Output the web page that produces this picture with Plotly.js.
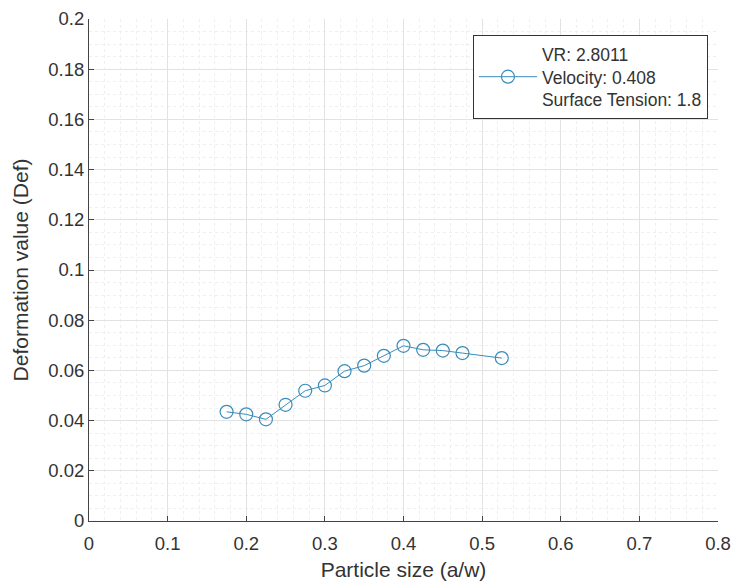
<!DOCTYPE html>
<html>
<head>
<meta charset="utf-8">
<script src="https://cdn.plot.ly/plotly-3.0.1.min.js"></script>
<style>html,body{margin:0;padding:0;background:#fff;}#chart{width:738px;height:583px;}</style>
</head>
<body>
<div id="chart"></div>
<script>
const particleSize = [0.175, 0.2, 0.225, 0.25, 0.275, 0.3, 0.325, 0.35, 0.375, 0.4, 0.425, 0.45, 0.475, 0.525];
const deformation = [0.0435, 0.0425, 0.0405, 0.0463, 0.0519, 0.054, 0.0597, 0.0619, 0.0658, 0.0698, 0.0682, 0.0679, 0.0669, 0.0649];
const seriesName = 'VR: 2.8011<br>Velocity: 0.408<br>Surface Tension: 1.8';
const xTitle = 'Particle size (a/w)';
const yTitle = 'Deformation value (Def)';

const lineColor = '#3a8cba';
const font = 'Liberation Sans, Arial, sans-serif';
const textColor = '#333333';

const trace = {
  x: particleSize,
  y: deformation,
  mode: 'lines+markers',
  name: seriesName,
  line: {color: lineColor, width: 1},
  marker: {symbol: 'circle-open', size: 13, color: lineColor, line: {width: 1.2, color: lineColor}},
  showlegend: true
};

const axisCommon = {
  showline: true,
  linecolor: '#444444',
  linewidth: 1,
  ticks: 'inside',
  ticklen: 5,
  tickcolor: '#444444',
  tickfont: {family: font, size: 18.5, color: textColor},
  showgrid: true,
  gridcolor: '#e2e2e2',
  gridwidth: 1,
  zeroline: false,
  mirror: false
};

const layout = {
  width: 738,
  height: 583,
  margin: {l: 89, r: 20, t: 19, b: 62},
  paper_bgcolor: '#ffffff',
  plot_bgcolor: '#ffffff',
  font: {family: font, color: textColor},
  xaxis: Object.assign({}, axisCommon, {
    range: [0, 0.8],
    dtick: 0.1,
    tick0: 0,
    ticklabelstandoff: 6,
    minor: {dtick: 0.02, showgrid: true, gridcolor: '#efefef', griddash: 'dot', gridwidth: 1},
    title: {text: xTitle, font: {family: font, size: 21, color: textColor}, standoff: 9}
  }),
  yaxis: Object.assign({}, axisCommon, {
    range: [0, 0.2],
    dtick: 0.02,
    tick0: 0,
    minor: {dtick: 0.005, showgrid: true, gridcolor: '#efefef', griddash: 'dot', gridwidth: 1},
    title: {text: yTitle, font: {family: font, size: 21, color: textColor}, standoff: 13}
  }),
  legend: {
    x: 0.984, xanchor: 'right',
    y: 0.968, yanchor: 'top',
    bgcolor: '#ffffff',
    bordercolor: '#333333',
    borderwidth: 1,
    font: {family: font, size: 17.5, color: textColor},
    itemwidth: 58
  },
  showlegend: true
};

Plotly.newPlot('chart', [trace], layout, {displayModeBar: false, staticPlot: true});
</script>
</body>
</html>
